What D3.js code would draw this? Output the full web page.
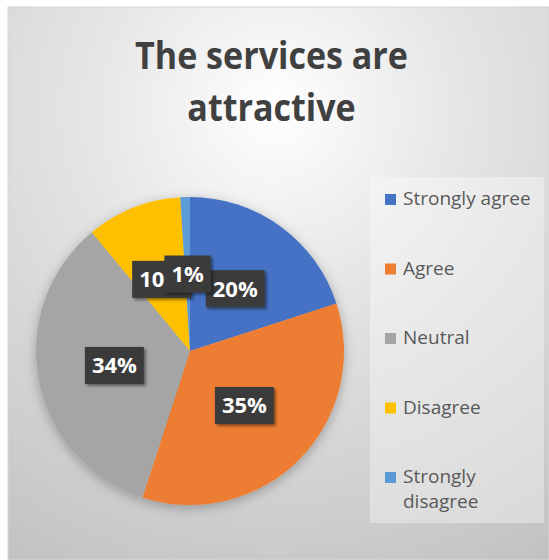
<!DOCTYPE html>
<html>
<head>
<meta charset="utf-8">
<script src="https://cdn.jsdelivr.net/npm/d3@7"></script>
<style>
  html, body { margin: 0; padding: 0; background: #ffffff; }
  svg { display: block; }
  text { font-family: "Open Sans", "Noto Sans", sans-serif; }
</style>
</head>
<body>
<svg id="chart" width="549" height="560"></svg>
<script>
// Survey answers for "The services are attractive"
const categories = ["Strongly agree", "Agree", "Neutral", "Disagree", "Strongly disagree"];
const percents = [20, 35, 34, 10, 1];
const colors = ["#4472C4", "#ED7D31", "#A5A5A5", "#FFC000", "#5B9BD5"];
const titleLines = ["The services are", "attractive"];

const W = 549, H = 560;
const svg = d3.select("#chart");
const defs = svg.append("defs");

// Chart area background: soft radial gradient, bright near the title
const bg = defs.append("radialGradient").attr("id", "bgGrad")
  .attr("gradientUnits", "userSpaceOnUse")
  .attr("cx", 275).attr("cy", 110).attr("r", 520);
bg.append("stop").attr("offset", 0).attr("stop-color", "#ffffff");
bg.append("stop").attr("offset", 0.35).attr("stop-color", "#e6e6e6");
bg.append("stop").attr("offset", 1).attr("stop-color", "#c2c2c2");

const pieShadow = defs.append("filter").attr("id", "pieShadow")
  .attr("x", "-20%").attr("y", "-20%").attr("width", "140%").attr("height", "140%");
pieShadow.append("feDropShadow").attr("dx", 0).attr("dy", 3)
  .attr("stdDeviation", 6).attr("flood-color", "#000").attr("flood-opacity", 0.28);

const boxShadow = defs.append("filter").attr("id", "boxShadow")
  .attr("x", "-30%").attr("y", "-30%").attr("width", "160%").attr("height", "160%");
boxShadow.append("feDropShadow").attr("dx", 2).attr("dy", 2)
  .attr("stdDeviation", 1.8).attr("flood-color", "#000").attr("flood-opacity", 0.45);

svg.append("rect")
  .attr("x", 8).attr("y", 7).attr("width", W - 8).attr("height", H - 7)
  .attr("fill", "url(#bgGrad)")
  .attr("stroke", "#d6d6d6").attr("stroke-width", 1);

// Title: large bold type, narrowed slightly so the first line spans ~273px
const titleCx = 271.5;
const title = svg.append("g");
const titleTexts = titleLines.map((line, i) =>
  title.append("text")
    .attr("x", 0).attr("y", 69 + i * 52)
    .attr("text-anchor", "middle")
    .attr("font-size", 38).attr("font-weight", 700)
    .attr("fill", "#404040")
    .text(line));
const firstW = titleTexts[0].node().getComputedTextLength();
const sx = Math.min(1, 273 / firstW);
title.attr("transform", `translate(${titleCx},0) scale(${sx},1)`);

// Pie
const cx = 190, cy = 351, radius = 154;
const pie = d3.pie().sort(null).value(d => d.value);
const arcs = pie(categories.map((c, i) => ({ name: c, value: percents[i], color: colors[i] })));
const arc = d3.arc().innerRadius(0).outerRadius(radius);
const labelArc = d3.arc().innerRadius(radius / 2).outerRadius(radius / 2);

const pieG = svg.append("g").attr("transform", `translate(${cx},${cy})`);
pieG.append("g").attr("filter", "url(#pieShadow)")
  .selectAll("path").data(arcs).join("path")
  .attr("d", arc)
  .attr("fill", d => d.data.color);

// Data labels: white bold text on dark callout boxes
const labels = pieG.append("g");
arcs.forEach(d => {
  const [lx, ly] = labelArc.centroid(d);
  const g = labels.append("g").attr("transform", `translate(${lx},${ly})`);
  const rect = g.append("rect").attr("fill", "#3b3b3b").attr("filter", "url(#boxShadow)");
  const t = g.append("text")
    .attr("text-anchor", "middle").attr("dy", "0.36em")
    .attr("font-size", 22).attr("font-weight", 700)
    .attr("fill", "#ffffff")
    .text(d.data.value + "%");
  const w = t.node().getComputedTextLength() + 14;
  const h = 37;
  rect.attr("x", -w / 2).attr("y", -h / 2).attr("width", w).attr("height", h);
});

// Legend
const legend = svg.append("g");
legend.append("rect")
  .attr("x", 370).attr("y", 177).attr("width", 174).attr("height", 346)
  .attr("fill", "#ffffff").attr("fill-opacity", 0.35);

const legendTop = 205, legendStep = 69.5, legendX = 403, maxTextW = 138;
categories.forEach((c, i) => {
  const y = legendTop + i * legendStep;
  legend.append("rect")
    .attr("x", 385).attr("y", y - 11).attr("width", 11).attr("height", 11)
    .attr("fill", colors[i]);
  const t = legend.append("text")
    .attr("x", legendX).attr("y", y)
    .attr("font-size", 19).attr("fill", "#595959");
  // wrap long labels onto extra lines
  const words = c.split(" ");
  let line = [], tspan = t.append("tspan").attr("x", legendX).attr("dy", 0);
  words.forEach(word => {
    line.push(word);
    tspan.text(line.join(" "));
    if (tspan.node().getComputedTextLength() > maxTextW && line.length > 1) {
      line.pop();
      tspan.text(line.join(" "));
      line = [word];
      tspan = t.append("tspan").attr("x", legendX).attr("dy", 25).text(word);
    }
  });
});
</script>
</body>
</html>
